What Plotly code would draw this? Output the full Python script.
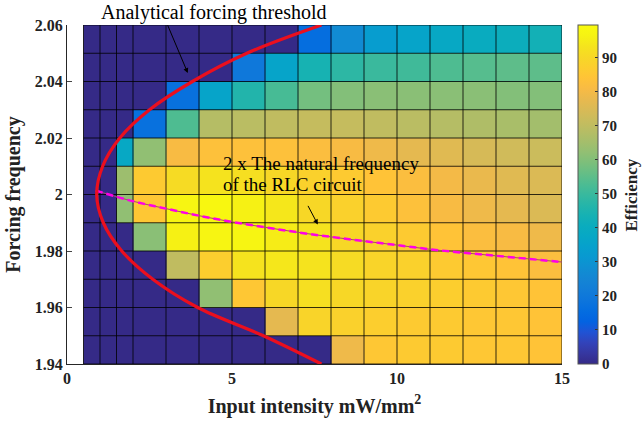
import plotly.graph_objects as go

# ---- data ----
x_edges = [0.5, 1, 1.5, 2, 3, 4, 5, 6, 7, 8, 9, 10, 11, 12, 13, 14, 15]
y_edges = [1.94, 1.95, 1.96, 1.97, 1.98, 1.99, 2.00, 2.01, 2.02, 2.03, 2.04, 2.05, 2.06]

# efficiency per cell, rows from bottom (1.94-1.95) to top (2.05-2.06)
row_194 = [0, 0, 0, 0, 0, 0, 0, 0, 0, 79, 85, 86, 86, 85, 85, 84]
row_195 = [0, 0, 0, 0, 0, 0, 0, 77, 89, 88, 87, 86, 86, 85, 85, 84]
row_196 = [0, 0, 0, 0, 0, 62, 85, 90, 92, 90, 89, 88, 87, 86, 85, 84]
row_197 = [0, 0, 0, 0, 70, 87, 93, 94, 93, 91, 89, 88, 86, 85, 84, 82]
row_198 = [0, 0, 0, 61, 96, 97, 97, 95, 93, 90, 88, 86, 84, 82, 81, 79]
row_199 = [0, 0, 62, 85, 97, 98, 96, 94, 90, 88, 86, 83, 81, 79, 77, 75]
row_200 = [0, 0, 64, 86, 91, 93, 92, 90, 88, 86, 84, 82, 80, 78, 76, 75]
row_201 = [0, 0, 38, 62, 81, 83, 83, 83, 82, 81, 79, 77, 76, 74, 73, 72]
row_202 = [0, 0, 0, 17, 53, 68, 69, 70, 71, 71, 70, 69, 68, 67, 66, 65]
row_203 = [0, 0, 0, 0, 17, 36, 46, 52, 58, 60, 61, 61, 61, 61, 60, 60]
row_204 = [0, 0, 0, 0, 0, 0, 20, 36, 44, 48, 50, 51, 53, 54, 55, 55]
row_205 = [0, 0, 0, 0, 0, 0, 0, 0, 16, 27, 33, 36, 38, 40, 41, 43]
efficiency = [row_194, row_195, row_196, row_197, row_198, row_199,
              row_200, row_201, row_202, row_203, row_204, row_205]

# analytical forcing threshold (read points)
thr_y = [1.94, 1.95, 1.96, 1.97, 1.98, 1.99, 2.00, 2.01, 2.02, 2.03, 2.04, 2.05, 2.06]
thr_x = [7.71, 5.95, 3.96, 2.6, 1.66, 1.1, 0.9, 1.08, 1.6, 2.5, 3.8, 5.45, 7.71]

# 2 x natural frequency of the RLC circuit (read points)
nat_x = [0.87, 2, 3, 4, 5, 6, 7, 8, 9, 10, 11, 12, 13, 14, 15]
nat_y = [2.0014, 1.9976, 1.9950, 1.9925, 1.9903, 1.9884, 1.9866, 1.9850, 1.9835,
         1.9821, 1.9806, 1.9794, 1.9783, 1.9772, 1.9761]

y_ticks = [1.94, 1.96, 1.98, 2.0, 2.02, 2.04, 2.06]
y_ticktext = ["1.94", "1.96", "1.98", "2", "2.02", "2.04", "2.06"]
x_ticks = [0, 5, 10, 15]
cb_ticks = [0, 10, 20, 30, 40, 50, 60, 70, 80, 90]

# ---- parula colormap ----
parula = [
    (0.2081, 0.1663, 0.5292), (0.2122, 0.2138, 0.6270), (0.1959, 0.2645, 0.7279),
    (0.1253, 0.3242, 0.8303), (0.0117, 0.3875, 0.8820), (0.0165, 0.4266, 0.8786),
    (0.0498, 0.4586, 0.8641), (0.0723, 0.4887, 0.8467), (0.0793, 0.5200, 0.8312),
    (0.0641, 0.5570, 0.8240), (0.0343, 0.5966, 0.8199), (0.0239, 0.6287, 0.8038),
    (0.0228, 0.6535, 0.7768), (0.0384, 0.6743, 0.7436), (0.0843, 0.6928, 0.7062),
    (0.1453, 0.7098, 0.6646), (0.2178, 0.7250, 0.6193), (0.3022, 0.7376, 0.5712),
    (0.3953, 0.7459, 0.5244), (0.4871, 0.7491, 0.4840), (0.5709, 0.7485, 0.4494),
    (0.6473, 0.7456, 0.4188), (0.7184, 0.7411, 0.3905), (0.7858, 0.7356, 0.3633),
    (0.8507, 0.7299, 0.3360), (0.9139, 0.7258, 0.3063), (0.9739, 0.7314, 0.2666),
    (0.9990, 0.7653, 0.2164), (0.9880, 0.8066, 0.1794), (0.9697, 0.8481, 0.1475),
    (0.9589, 0.8949, 0.1132), (0.9661, 0.9514, 0.0755), (0.9763, 0.9831, 0.0538),
]
n = len(parula)
colorscale = [[i / (n - 1), "rgb(%d,%d,%d)" % tuple(round(c * 255) for c in col)]
              for i, col in enumerate(parula)]

FONT = "Liberation Serif, Times New Roman, serif"
TXT = "#222222"

fig = go.Figure()
fig.add_trace(go.Heatmap(
    x=x_edges, y=y_edges, z=efficiency,
    colorscale=colorscale, zmin=0, zmax=99.5,
    colorbar=dict(
        x=1.0323, xanchor="left", xpad=0, y=0.5, yanchor="middle",
        len=1, lenmode="fraction", thickness=20, ypad=0,
        outlinewidth=1, outlinecolor="#555555",
        tickvals=cb_ticks, ticks="inside", ticklen=3, tickcolor="#333333",
        tickfont=dict(family=FONT, size=15, color=TXT, weight="bold"),
    ),
    hoverinfo="skip",
))

# cell outlines
gx, gy = [], []
for xe in x_edges:
    gx += [xe, xe, None]
    gy += [y_edges[0], y_edges[-1], None]
for ye in y_edges:
    gx += [x_edges[0], x_edges[-1], None]
    gy += [ye, ye, None]
fig.add_trace(go.Scatter(x=gx, y=gy, mode="lines",
                         line=dict(color="rgba(0,0,0,0.8)", width=1),
                         hoverinfo="skip", showlegend=False))

# natural-frequency line
fig.add_trace(go.Scatter(x=nat_x, y=nat_y, mode="lines",
                         line=dict(color="rgb(170,70,110)", width=1, shape="spline"),
                         hoverinfo="skip", showlegend=False))
fig.add_trace(go.Scatter(x=nat_x, y=nat_y, mode="lines",
                         line=dict(color="rgb(255,0,230)", width=2.5, dash="7px,4px",
                                   shape="spline"),
                         hoverinfo="skip", showlegend=False))

# threshold curve
fig.add_trace(go.Scatter(x=thr_x, y=thr_y, mode="lines",
                         line=dict(color="rgb(235,15,30)", width=3.2, shape="spline",
                                   smoothing=1.0),
                         hoverinfo="skip", showlegend=False))

fig.update_layout(
    width=642, height=426,
    margin=dict(l=67, r=80, t=25, b=62),
    paper_bgcolor="white", plot_bgcolor="white",
    font=dict(family=FONT, color=TXT),
    showlegend=False,
    xaxis=dict(range=[0, 15], tickvals=x_ticks, ticks="inside", ticklen=5,
               showline=True, linecolor="#262626", linewidth=1, mirror=False,
               showgrid=False, zeroline=False, layer="below traces",
               tickfont=dict(family=FONT, size=16, color=TXT, weight="bold"),
               title=dict(text="Input intensity mW/mm<sup>2</sup>", standoff=12,
                          font=dict(family=FONT, size=20, color=TXT, weight="bold"))),
    yaxis=dict(range=[1.94, 2.06], tickvals=y_ticks, ticktext=y_ticktext,
               ticks="inside", ticklen=5,
               showline=True, linecolor="#262626", linewidth=1, mirror=False,
               showgrid=False, zeroline=False, layer="below traces",
               tickfont=dict(family=FONT, size=16, color=TXT, weight="bold"),
               title=dict(text="Forcing frequency", standoff=8,
                          font=dict(family=FONT, size=20, color=TXT, weight="bold"))),
    annotations=[
        dict(text="Efficiency", xref="paper", yref="paper", x=1.1414, y=0.5,
             textangle=-90, showarrow=False, xanchor="center", yanchor="middle",
             font=dict(family=FONT, size=17, color=TXT, weight="bold")),
        dict(text="Analytical forcing threshold", xref="x", yref="paper",
             x=4.45, y=1.038, showarrow=False, xanchor="center", yanchor="middle",
             font=dict(family=FONT, size=20, color="black")),
        dict(text="", xref="x", yref="y", x=3.66, y=2.043,
             axref="x", ayref="y", ax=3.03, ay=2.0605,
             showarrow=True, arrowhead=2, arrowsize=1, arrowwidth=1, arrowcolor="black"),
        dict(text="2 x The natural frequency", xref="x", yref="y",
             x=4.68, y=2.0108, showarrow=False, xanchor="left", yanchor="middle",
             font=dict(family=FONT, size=19, color="black")),
        dict(text="of the RLC circuit", xref="x", yref="y",
             x=4.68, y=2.0034, showarrow=False, xanchor="left", yanchor="middle",
             font=dict(family=FONT, size=19, color="black")),
        dict(text="", xref="x", yref="y", x=7.6, y=1.9894,
             axref="x", ayref="y", ax=7.28, ay=1.9965,
             showarrow=True, arrowhead=2, arrowsize=1, arrowwidth=1, arrowcolor="black"),
    ],
)

fig.write_html("out.html")
